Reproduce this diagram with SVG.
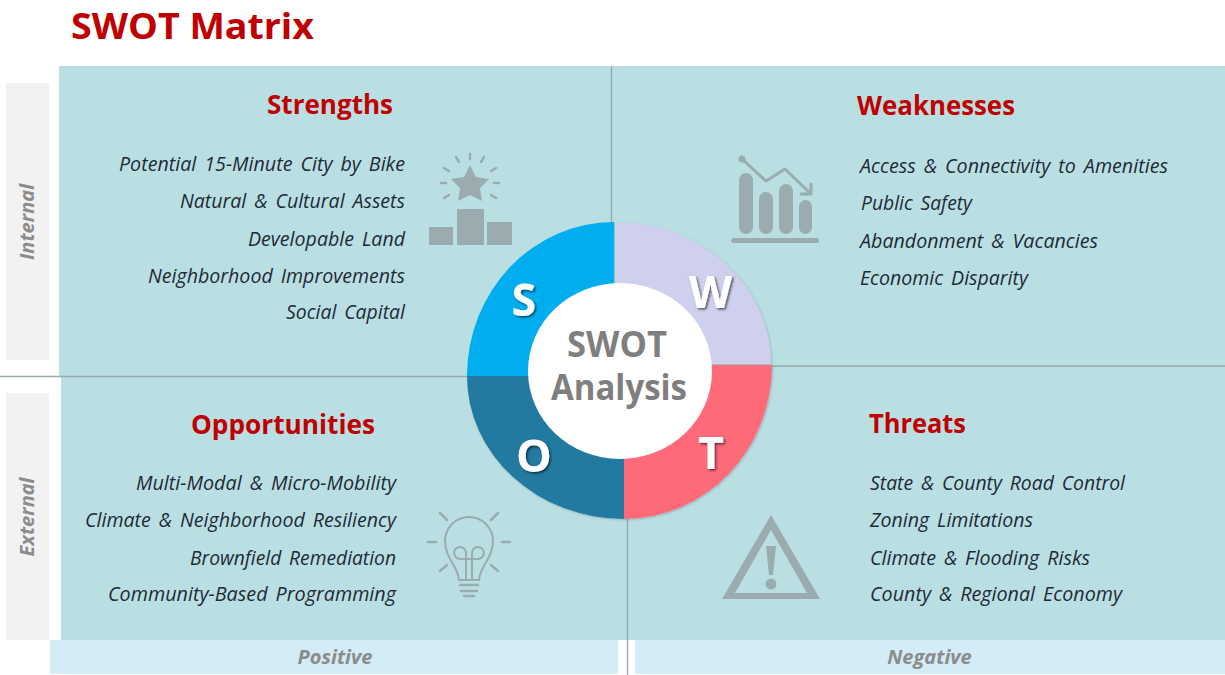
<svg xmlns="http://www.w3.org/2000/svg" width="1225" height="675" viewBox="0 0 1225 675">
<style>
text{font-family:"Open Sans","Noto Sans","Liberation Sans",sans-serif}
.panel{fill:#b9dfe3}
.side{fill:#f2f2f2}
.foot{fill:#d3ecf6}
.div{stroke:#98aaad;stroke-width:1.3;fill:none}
.title{font-size:35px;font-weight:700;fill:#c00000}
.head{font-size:26px;font-weight:700;fill:#c00000}
.item{font-size:20.5px;font-style:italic;fill:#1f2a36;word-spacing:3px}
.end{text-anchor:end}
.axis{font-size:20px;font-weight:700;font-style:italic;fill:#8c8c8c;text-anchor:middle}
.letter{font-size:45px;font-weight:700;fill:#fff;text-anchor:middle;filter:url(#ts)}
.mid{font-size:36px;font-weight:700;fill:#7f7f7f;text-anchor:middle}
.ic{fill:#9aacb0}
.ln{fill:none;stroke:#9aacb0;stroke-linecap:round;stroke-linejoin:round}
</style>
<defs>
<filter id="ts" x="-30%" y="-30%" width="170%" height="170%"><feDropShadow dx="1.5" dy="1.5" stdDeviation="1.2" flood-color="#000" flood-opacity=".6"/></filter>
<filter id="ps" x="-10%" y="-10%" width="120%" height="120%"><feDropShadow dx="1" dy="1" stdDeviation="1" flood-color="#000" flood-opacity=".2"/></filter>
</defs>
<rect width="1225" height="675" fill="#fff"/>
<text class="title" x="71" y="39" textLength="243" lengthAdjust="spacingAndGlyphs">SWOT Matrix</text>

<g id="axis-internal"><rect class="side" x="6" y="83" width="43" height="277"/><text class="axis" transform="translate(34 222) rotate(-90)">Internal</text></g>
<g id="axis-external"><rect class="side" x="6" y="393" width="43" height="247"/><text class="axis" transform="translate(34 517) rotate(-90)">External</text></g>
<g id="axis-positive"><rect class="foot" x="50" y="640" width="568" height="34"/><text class="axis" x="335" y="664">Positive</text></g>
<g id="axis-negative"><rect class="foot" x="635" y="640" width="590" height="34"/><text class="axis" x="929.500" y="664">Negative</text></g>

<g id="strengths">
<rect class="panel" x="59" y="66" width="553" height="311"/>
<text class="head" x="267" y="114" textLength="126" lengthAdjust="spacingAndGlyphs">Strengths</text>
<text class="item end" x="405" y="171" textLength="286" lengthAdjust="spacingAndGlyphs">Potential 15-Minute City by Bike</text>
<text class="item end" x="405" y="208" textLength="225" lengthAdjust="spacingAndGlyphs">Natural &amp; Cultural Assets</text>
<text class="item end" x="405" y="246" textLength="157" lengthAdjust="spacingAndGlyphs">Developable Land</text>
<text class="item end" x="405" y="283" textLength="257" lengthAdjust="spacingAndGlyphs">Neighborhood Improvements</text>
<text class="item end" x="405" y="319" textLength="119" lengthAdjust="spacingAndGlyphs">Social Capital</text>
<g id="icon-star">
<rect class="ic" x="429" y="227" width="24" height="18"/><rect class="ic" x="457" y="209" width="27" height="36"/><rect class="ic" x="487" y="222" width="25" height="23"/>
<polygon class="ic" points="470,165 476,177 489,179 480,188 482,201 470,195 458,201 460,188 451,179 464,177"/>
<path class="ln" stroke-width="2.5" d="M470 154v5M456 157l3 5M484 157l-3 5M444 168l5 3M496 168l-5 3M441 183h5M494 183h5M444 198l5-3M496 198l-5-3"/>
</g>
</g>

<g id="weaknesses">
<rect class="panel" x="612" y="66" width="613" height="300"/>
<text class="head" x="857" y="115" textLength="158" lengthAdjust="spacingAndGlyphs">Weaknesses</text>
<text class="item" x="860" y="173" textLength="308" lengthAdjust="spacingAndGlyphs">Access &amp; Connectivity to Amenities</text>
<text class="item" x="861" y="210" textLength="111" lengthAdjust="spacingAndGlyphs">Public Safety</text>
<text class="item" x="860" y="248" textLength="238" lengthAdjust="spacingAndGlyphs">Abandonment &amp; Vacancies</text>
<text class="item" x="860" y="285" textLength="168" lengthAdjust="spacingAndGlyphs">Economic Disparity</text>
<g id="icon-chart">
<rect class="ic" x="739" y="173" width="14" height="61" rx="7"/><rect class="ic" x="759" y="192" width="14" height="42" rx="7"/><rect class="ic" x="779" y="184" width="14" height="50" rx="7"/><rect class="ic" x="799" y="200" width="13" height="34" rx="6.500"/>
<rect class="ic" x="731" y="238" width="88" height="5" rx="2.500"/>
<path class="ln" stroke-width="3" d="M742 159l24 22 19-12 26 25M811 184v10h-10"/><circle class="ic" cx="742" cy="159" r="3.500"/>
</g>
</g>

<g id="opportunities">
<rect class="panel" x="61" y="377" width="567" height="263"/>
<text class="head" x="191" y="434" textLength="184" lengthAdjust="spacingAndGlyphs">Opportunities</text>
<text class="item end" x="396" y="490" textLength="260" lengthAdjust="spacingAndGlyphs">Multi-Modal &amp; Micro-Mobility</text>
<text class="item end" x="396" y="527" textLength="311" lengthAdjust="spacingAndGlyphs">Climate &amp; Neighborhood Resiliency</text>
<text class="item end" x="396" y="565" textLength="206" lengthAdjust="spacingAndGlyphs">Brownfield Remediation</text>
<text class="item end" x="396" y="601" textLength="288" lengthAdjust="spacingAndGlyphs">Community-Based Programming</text>
<g id="icon-bulb">
<path class="ln" stroke-width="2" d="M459 580C458 566 445 558 445 541a24 24 0 0 1 48 0C493 558 480 566 479 580Z"/>
<path class="ln" stroke-width="2" d="M466 580V552a6 6 0 1 0-6 7h9M472 580V552a6 6 0 1 1 6 7h-9"/>
<path class="ln" stroke-width="2.500" d="M460 585h18M461 591h16M464 596h10M428 542h8M502 542h8M440 513l7 7M498 513l-7 7M440 571l7-6M498 571l-7-6"/>
</g>
</g>

<g id="threats">
<rect class="panel" x="628" y="366" width="597" height="274"/>
<text class="head" x="869" y="433" textLength="97" lengthAdjust="spacingAndGlyphs">Threats</text>
<text class="item" x="870" y="490" textLength="255" lengthAdjust="spacingAndGlyphs">State &amp; County Road Control</text>
<text class="item" x="870" y="527" textLength="163" lengthAdjust="spacingAndGlyphs">Zoning Limitations</text>
<text class="item" x="870" y="565" textLength="220" lengthAdjust="spacingAndGlyphs">Climate &amp; Flooding Risks</text>
<text class="item" x="870" y="601" textLength="252" lengthAdjust="spacingAndGlyphs">County &amp; Regional Economy</text>
<g id="icon-warning">
<path class="ic" fill-rule="evenodd" d="M771 515L820 599H722ZM771 530L735 593H807Z"/>
<polygon class="ic" points="766,546 776,546 773,575 769,575"/><circle class="ic" cx="771" cy="584" r="5.500"/>
</g>
</g>

<g id="connectors" class="div">
<path d="M611.500 66V222"/><path d="M0 376.500H467"/><path d="M771 366H1225"/><path d="M627.500 519V675"/>
</g>
<rect x="618" y="640" width="17" height="35" fill="#fff"/>
<path class="div" d="M627.500 640V675"/>

<g id="swot-wheel" filter="url(#ps)">
<g id="seg-s"><path d="M614 222A147 154 0 0 0 467 376H614Z" fill="#00aeef"/></g>
<g id="seg-w"><path d="M615 222A156 142 0 0 1 771 364H615Z" fill="#cfcfee"/></g>
<g id="seg-o"><path d="M467 376A157 143 0 0 0 624 519V376Z" fill="#217aa1"/></g>
<g id="seg-t"><path d="M772 365A148 154 0 0 1 624 519V365Z" fill="#ff6b79"/></g>
</g>
<g id="swot-center">
<ellipse cx="620" cy="371" rx="92" ry="88" fill="#fff"/>
<text class="mid" x="617" y="357" textLength="100" lengthAdjust="spacingAndGlyphs">SWOT</text>
<text class="mid" x="619" y="400" textLength="136" lengthAdjust="spacingAndGlyphs">Analysis</text>
</g>
<text class="letter" x="524" y="316">S</text>
<text class="letter" x="710.500" y="308">W</text>
<text class="letter" x="534" y="472">O</text>
<text class="letter" x="711" y="469">T</text>
</svg>
